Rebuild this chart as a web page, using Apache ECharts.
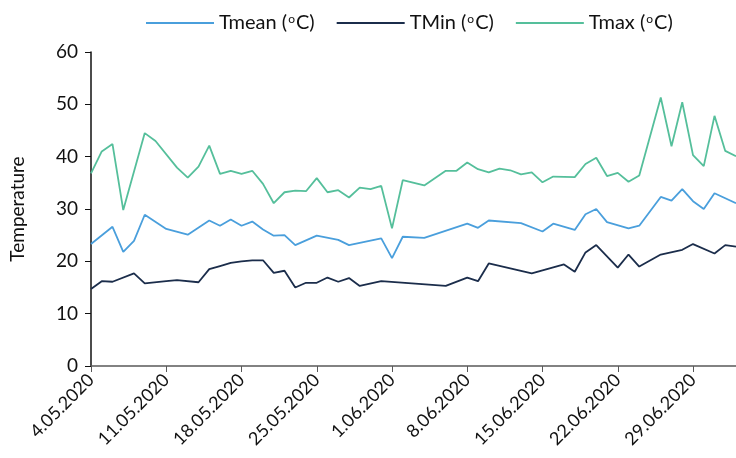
<!DOCTYPE html>
<html>
<head>
<meta charset="utf-8">
<script src="https://cdn.jsdelivr.net/npm/echarts@6/dist/echarts.min.js"></script>
<style>html,body{margin:0;padding:0;background:#fff;}#c{width:736px;height:458px;}</style>
</head>
<body>
<div id="c"></div>
<script>
const dates = [
 "4.05.2020","5.05.2020","6.05.2020","7.05.2020","8.05.2020","9.05.2020","10.05.2020",
 "11.05.2020","12.05.2020","13.05.2020","14.05.2020","15.05.2020","16.05.2020","17.05.2020",
 "18.05.2020","19.05.2020","20.05.2020","21.05.2020","22.05.2020","23.05.2020","24.05.2020",
 "25.05.2020","26.05.2020","27.05.2020","28.05.2020","29.05.2020","30.05.2020","31.05.2020",
 "1.06.2020","2.06.2020","3.06.2020","4.06.2020","5.06.2020","6.06.2020","7.06.2020",
 "8.06.2020","9.06.2020","10.06.2020","11.06.2020","12.06.2020","13.06.2020","14.06.2020",
 "15.06.2020","16.06.2020","17.06.2020","18.06.2020","19.06.2020","20.06.2020","21.06.2020",
 "22.06.2020","23.06.2020","24.06.2020","25.06.2020","26.06.2020","27.06.2020","28.06.2020",
 "29.06.2020","30.06.2020","1.07.2020","2.07.2020","3.07.2020"
];
const seriesNames = ["Tmean (ºC)", "TMin (ºC)", "Tmax (ºC)"];
const tmean = [
 23.3,null,26.6,21.8,23.9,28.9,null,26.2,null,25.1,
 null,27.8,26.8,28.0,26.8,27.6,26.1,24.9,25.0,23.1,
 null,24.9,null,24.1,23.1,null,null,24.4,20.6,24.7,
 null,24.5,null,null,null,27.2,26.4,27.8,null,null,
 27.3,null,25.7,27.2,null,26.0,29.0,30.0,27.5,null,
 26.3,26.8,null,32.3,31.6,33.8,31.5,30.0,33.0,null,
 31.1
];
const tmin = [
 14.7,16.2,16.1,null,17.7,15.8,null,16.2,16.4,null,
 16.0,18.5,19.1,19.7,20.0,20.2,20.2,17.8,18.2,15.0,
 15.9,15.9,16.9,16.1,16.8,15.3,null,16.2,null,null,
 null,null,null,15.3,null,16.9,16.2,19.6,null,null,
 null,17.7,null,null,19.4,18.0,21.7,23.1,null,18.8,
 21.3,19.0,null,21.3,null,22.2,23.3,null,21.5,23.1,
 22.8
];
const tmax = [
 36.8,41.0,42.4,29.8,null,44.5,43.0,null,37.9,36.0,
 38.1,42.1,36.7,37.3,36.7,37.3,34.8,31.1,33.2,33.5,
 33.4,35.9,33.2,33.6,32.2,34.1,33.8,34.4,26.3,35.5,
 null,34.5,null,37.3,37.3,38.9,37.6,37.0,37.7,37.4,
 36.6,37.0,35.1,36.2,null,36.1,38.6,39.8,36.3,36.9,
 35.2,36.4,null,51.3,42.0,50.4,40.3,38.2,47.8,41.1,
 40.1
];
const colors = ["#4a9fdc", "#1b2d4b", "#55bf9b"];
const FONT = "Lato";

const chart = echarts.init(document.getElementById('c'), null, {renderer: 'canvas'});
function mk(name, data, color) {
  return {
    name: name, type: 'line', data: data, connectNulls: true,
    symbol: 'none', showSymbol: false,
    lineStyle: {color: color, width: 1.8},
    itemStyle: {color: color},
    animation: false
  };
}
chart.setOption({
  animation: false,
  legend: {
    top: 8, left: 141, itemWidth: 68, itemHeight: 2, itemGap: 22, icon: 'rect',
    data: seriesNames,
    formatter: n => n.replace('ºC', '{s|o}C'),
    textStyle: {
      fontFamily: FONT, fontSize: 20, color: '#111',
      rich: { s: { fontFamily: FONT, fontSize: 12, color: '#111', verticalAlign: 'top', padding: [0, 1, 8, 1] } }
    }
  },
  grid: {left: 88, right: 0, top: 52, bottom: 92, containLabel: false},
  xAxis: {
    type: 'category', data: dates, boundaryGap: false,
    axisLine: {lineStyle: {color: '#595959', width: 1.5}},
    axisTick: {show: true, interval: 6, length: 6, lineStyle: {color: '#595959'}},
    axisLabel: {interval: 6, rotate: 45, fontFamily: FONT, fontSize: 18, color: '#111', margin: 11},
    splitLine: {show: false}
  },
  yAxis: {
    type: 'value', min: 0, max: 60, interval: 10,
    name: 'Temperature', nameLocation: 'middle', nameGap: 64, nameRotate: 90,
    nameTextStyle: {fontFamily: FONT, fontSize: 19, color: '#111'},
    axisLine: {show: true, lineStyle: {color: '#111', width: 1.5}},
    axisTick: {show: true, length: 6, lineStyle: {color: '#111'}},
    axisLabel: {fontFamily: FONT, fontSize: 19, color: '#111', margin: 13},
    splitLine: {show: false}
  },
  series: [
    mk(seriesNames[0], tmean, colors[0]),
    mk(seriesNames[1], tmin, colors[1]),
    mk(seriesNames[2], tmax, colors[2])
  ]
});
</script>
</body>
</html>
